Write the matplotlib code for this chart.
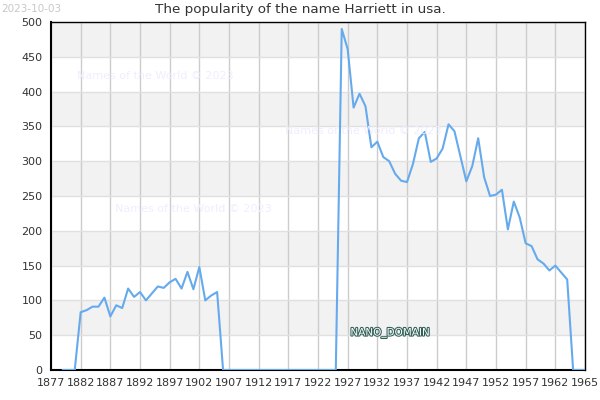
""" Popularity of the name Harriett in the USA, by year. """

import matplotlib.pyplot as plt
import matplotlib.patheffects as pe

# Data
years = list(range(1879, 1968))
counts = [0, 0, 0,                                            # 1879-1881
          83, 86, 91, 91, 104, 77, 93, 89, 117, 105,          # 1882-1891
          112, 100, 110, 120, 118, 126, 131, 117, 141, 116,   # 1892-1901
          148, 100, 107, 112,                                 # 1902-1905
          0, 0, 0, 0, 0, 0, 0, 0, 0, 0,                       # 1906-1915
          0, 0, 0, 0, 0, 0, 0, 0, 0, 0,                       # 1916-1925
          490, 461, 377, 397, 379, 320, 328, 306, 300, 282,   # 1926-1935
          272, 270, 296, 333, 342, 299, 304, 318, 353, 343,   # 1936-1945
          307, 271, 293, 333, 277, 250, 252, 259, 202, 242,   # 1946-1955
          219, 182, 178, 159, 153, 143, 150, 140, 130,        # 1956-1964
          0, 0, 0]                                            # 1965-1967

xticks = list(range(1877, 1968, 5))
xtick_labels = [str(y) for y in xticks[:-1]] + ['1965']
yticks = list(range(0, 501, 50))

fig = plt.figure(figsize=(6, 4), dpi=100)
ax = fig.add_axes([0.085, 0.075, 0.89, 0.87])

# Alternating horizontal bands
for lo in range(0, 500, 100):
    ax.axhspan(lo + 50, lo + 100, color='#f2f2f2', zorder=0, lw=0)

ax.plot(years, counts, color='#66aaee', lw=1.5, zorder=3)

ax.set_xlim(1877, 1967)
ax.set_ylim(0, 500)
ax.set_xticks(xticks)
ax.set_xticklabels(xtick_labels)
ax.set_yticks(yticks)
ax.tick_params(length=0, labelsize=8, labelcolor='#333333', pad=6)

ax.grid(axis='x', color='#cccccc', lw=1, zorder=1)
ax.grid(axis='y', color='#e0e0e0', lw=1, zorder=1)
ax.set_axisbelow(True)
for side in ax.spines:
    ax.spines[side].set_color('black')
    ax.spines[side].set_linewidth(1)
ax.spines['left'].set_linewidth(1.5)
ax.spines['bottom'].set_linewidth(1.5)

# Title is centred on the whole figure, not on the plot area
fig.text(0.5, 1 - 10 / 400, 'The popularity of the name Harriett in usa.',
         fontsize=9.7, color='#333333', ha='center', va='center')

# Watermarks
for wx, wy in [(155, 76), (363, 131), (193, 209)]:
    fig.text(wx / 600, 1 - wy / 400, 'Names of the World \u00a9 2023',
             fontsize=8, color='#eeeeff', ha='center', va='center', zorder=2)

fig.text(390 / 600, 1 - 333 / 400, 'NANO_DOMAIN', fontsize=7.5, color='white',
         ha='center', va='center', zorder=5,
         path_effects=[pe.withStroke(linewidth=1.5, foreground='#2f5f55')])

fig.text(0.002, 0.99, '2023-10-03', fontsize=7.5, color='#c8c8c8',
         ha='left', va='top')

fig.savefig('out.png', dpi=100)
